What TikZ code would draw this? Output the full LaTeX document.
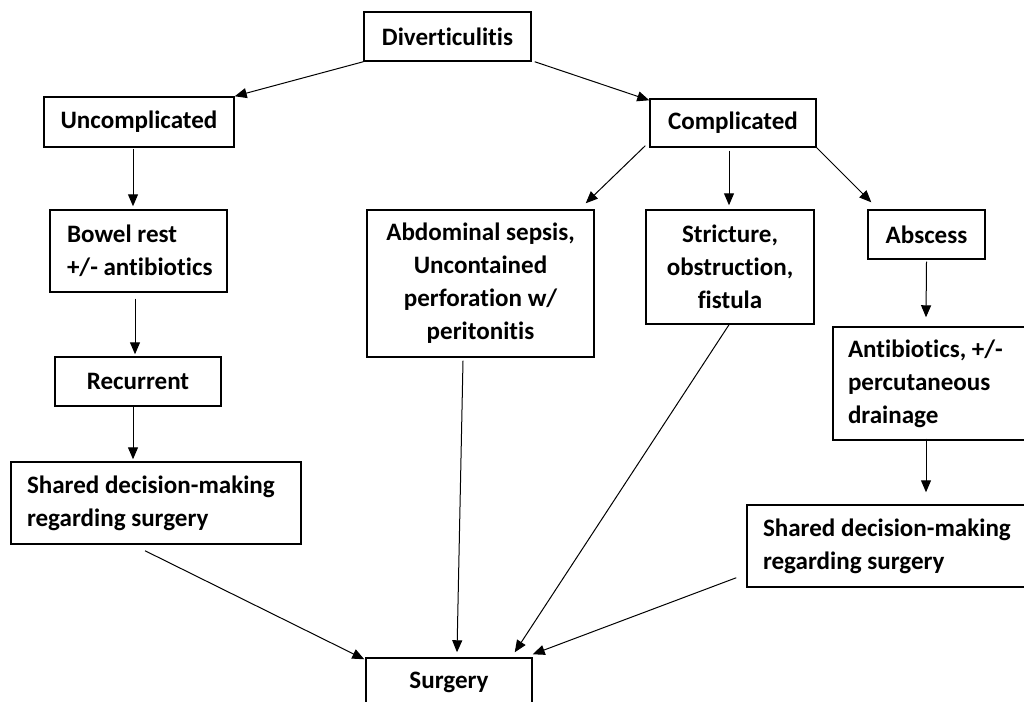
\documentclass[tikz,border=0pt]{standalone}
\usepackage{fontspec}
\setmainfont{Carlito}[Ligatures={NoCommon}]
\usetikzlibrary{arrows.meta,calc}
\tikzset{
  box/.style 2 args={draw, line width=1.1pt, rectangle, inner xsep=0pt, inner ysep=0pt,
    minimum width=#1*0.75pt, minimum height=#2*0.75pt,
    font=\fontsize{18.8}{24.75}\selectfont\bfseries, align=center},
  lbox/.style n args={3}{box={#1}{#2}, align=flush left, text width=(#1-2*#3)*0.75pt},
  arr/.style={line width=0.75pt, -{Triangle[length=9pt,width=7.5pt]}}
}
\begin{document}
\begin{tikzpicture}[x=0.75pt,y=-0.75pt]
\useasboundingbox (0,0) rectangle (1024,701);
\fill[white] (0,0) rectangle (1024,701);
\clip (0,0) rectangle (1024,701);
% nodes
\node[box={167}{49}] (div) at (447.5,36.5) {Diverticulitis};
\node[box={190}{50}] (unc) at (139,122) {Uncomplicated};
\node[box={166}{48}] (comp) at (733,123) {Complicated};
\node[lbox={177}{82}{17}] (bowel) at (138.5,251) {\mbox{Bowel rest}\\\mbox{+/- antibiotics}};
\node[box={227}{147}] (abd) at (480.5,283.5) {Abdominal sepsis,\\Uncontained\\perforation w/\\peritonitis};
\node[box={168}{114}] (strict) at (730,267) {Stricture,\\obstruction,\\fistula};
\node[box={117}{49}] (absc) at (926.5,234.5) {Abscess};
\node[lbox={197}{113}{15}] (anti) at (931.5,383.5) {\mbox{Antibiotics, +/-}\\\mbox{percutaneous}\\\mbox{drainage}};
\node[box={166}{49}] (rec) at (138,381.5) {Recurrent};
\node[lbox={290}{82}{16}] (shl) at (156,503) {\mbox{Shared decision-making}\\\mbox{regarding surgery}};
\node[lbox={283}{82}{16}] (shr) at (888.5,546) {\mbox{Shared decision-making}\\\mbox{regarding surgery}};
\node[box={166}{49}] (surg) at (449,682.5) {Surgery};
% connectors
\draw[arr] (div.south west) -- (unc.north east);
\draw[arr] ($(div.south east)+(3,0)$) -- ($(comp.north west)+(0,2)$);
\draw[arr] ($(unc.south)+(-6,1)$) -- ($(bowel.north)+(-5.5,-3)$);
\draw[arr] ($(bowel.south)+(-3.5,6)$) -- ($(rec.north)+(-3,-2)$);
\draw[arr] ($(rec.south)+(-5,0)$) -- ($(shl.north)+(-23,-2)$);
\draw[arr] ($(comp.south west)+(-4,-2)$) -- ($(abd.north east)+(-9,-6)$);
\draw[arr] ($(comp.south)+(-4,3)$) -- ($(strict.north)+(-1,-4)$);
\draw[arr] (comp.south east) -- ($(absc.north west)+(4,-7)$);
\draw[arr] ($(absc.south)+(0,2)$) -- ($(anti.north)+(-5.5,-9)$);
\draw[arr] ($(anti.south)+(-5.5,-2)$) -- ($(shr.north)+(37.5,-12)$);
\draw[arr] ($(shl.south)+(-11,6)$) -- ($(surg.north west)+(-1,2)$);
\draw[arr] ($(abd.south)+(-17.5,3)$) -- ($(surg.north)+(8,-5)$);
\draw[arr] ($(strict.south)+(-1,0)$) -- ($(surg.north east)+(-18,-5)$);
\draw[arr] ($(shr.south west)+(-10,-10)$) -- ($(surg.north east)+(0,-3)$);
\end{tikzpicture}
\end{document}
